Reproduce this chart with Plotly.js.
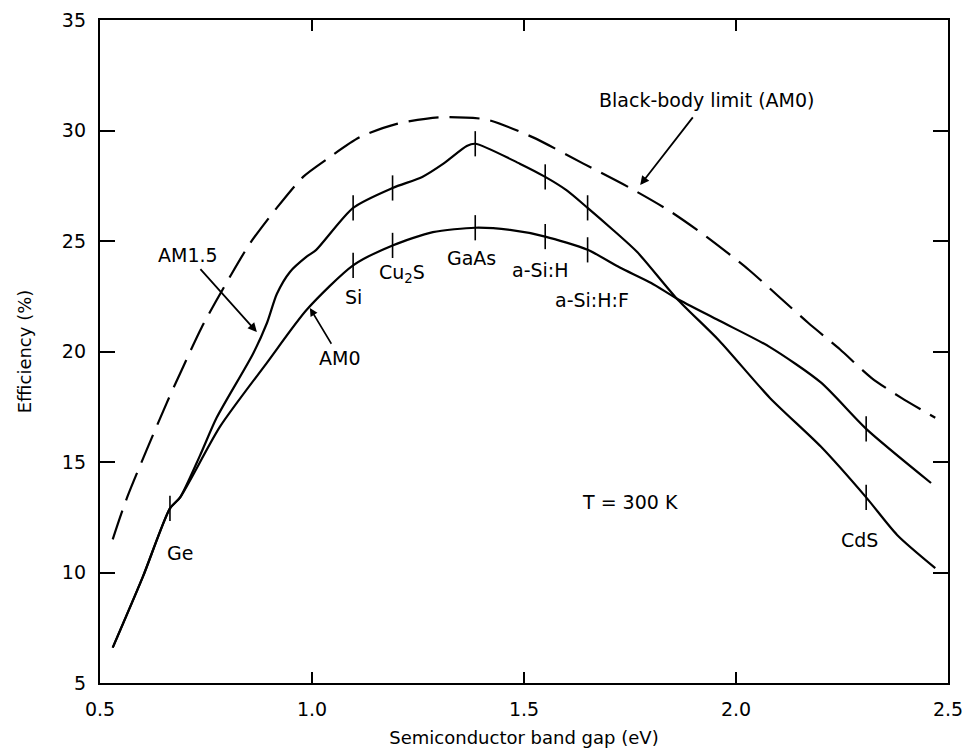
<!DOCTYPE html>
<html>
<head>
<meta charset="utf-8">
<script src="https://cdn.plot.ly/plotly-3.0.1.min.js"></script>
<style>html,body{margin:0;padding:0;background:#fff;}#chart{width:964px;height:752px;}</style>
</head>
<body>
<div id="chart"></div>
<script>
// Black-body limit (AM0), dashed
const bbGap = [0.53, 0.564, 0.658, 0.696, 0.74, 0.807, 0.854, 0.917, 0.979, 1.035, 1.113, 1.20, 1.30, 1.41, 1.52, 1.64, 1.75, 1.84, 1.93, 2.03, 2.10, 2.17, 2.245, 2.32, 2.39, 2.47];
const bbEff = [11.5, 13.4, 17.7, 19.3, 21.1, 23.4, 24.9, 26.5, 27.9, 28.7, 29.7, 30.3, 30.6, 30.5, 29.7, 28.5, 27.4, 26.4, 25.2, 23.7, 22.5, 21.3, 20.1, 18.8, 17.9, 17.0];

// AM1.5 curve
const am15Gap = [0.53, 0.601, 0.665, 0.689, 0.736, 0.775, 0.861, 0.894, 0.917, 0.948, 0.988, 1.01, 1.097, 1.19, 1.26, 1.31, 1.365, 1.385, 1.49, 1.55, 1.60, 1.65, 1.71, 1.767, 1.86, 1.96, 2.08, 2.20, 2.307, 2.38, 2.47];
const am15Eff = [6.6, 9.8, 12.9, 13.4, 15.3, 17.0, 19.9, 21.3, 22.6, 23.6, 24.3, 24.6, 26.5, 27.4, 27.9, 28.5, 29.3, 29.4, 28.5, 27.9, 27.3, 26.5, 25.5, 24.5, 22.4, 20.5, 17.9, 15.7, 13.4, 11.7, 10.2];

// AM0 curve
const am0Gap = [0.53, 0.601, 0.665, 0.689, 0.783, 0.894, 0.988, 1.097, 1.19, 1.285, 1.385, 1.467, 1.55, 1.65, 1.726, 1.80, 1.86, 1.96, 2.08, 2.20, 2.307, 2.46];
const am0Eff = [6.6, 9.8, 12.9, 13.4, 16.6, 19.5, 21.9, 23.9, 24.8, 25.4, 25.6, 25.5, 25.2, 24.6, 23.8, 23.1, 22.4, 21.4, 20.2, 18.6, 16.5, 14.05];

// Semiconductor markers
const materials = ["Ge", "Si", "Cu<sub>2</sub>S", "GaAs", "a-Si:H", "a-Si:H:F", "CdS"];
const matGap = [0.665, 1.097, 1.19, 1.385, 1.55, 1.65, 2.307];
const matAm15 = [12.9, 26.5, 27.4, 29.4, 27.9, 26.5, 13.4];
const matAm0 = [null, 23.9, 24.8, 25.6, 25.2, 24.6, 16.5];

// Tick labels
const xTicks = [0.5, 1.0, 1.5, 2.0, 2.5];
const xTickText = ["0.5", "1.0", "1.5", "2.0", "2.5"];
const yTicks = [5, 10, 15, 20, 25, 30, 35];

const FONT = "DejaVu Sans, Liberation Sans, sans-serif";
const lineStyle = {color: "#000", width: 2.2, shape: "spline", smoothing: 0.7};
const tickMarker = {symbol: "line-ns-open", size: 18, color: "#000", line: {color: "#000", width: 1.6}};

const traces = [
  {x: bbGap, y: bbEff, mode: "lines", line: Object.assign({}, lineStyle, {dash: "30px,11px"}), hoverinfo: "skip"},
  {x: am15Gap, y: am15Eff, mode: "lines", line: lineStyle, hoverinfo: "skip"},
  {x: am0Gap, y: am0Eff, mode: "lines", line: lineStyle, hoverinfo: "skip"},
  {x: matGap, y: matAm15, mode: "markers", marker: tickMarker, hoverinfo: "skip"},
  {x: matGap, y: matAm0, mode: "markers", marker: tickMarker, hoverinfo: "skip"}
];

// Label positions (text placement only)
const matLabelX = [0.689, 1.097, 1.212, 1.377, 1.540, 1.660, 2.292];
const matLabelY = [10.88, 22.47, 23.55, 24.23, 23.69, 22.33, 11.47];

const LF = {family: FONT, size: 19, color: "#000"};
const arrowStyle = {showarrow: true, arrowhead: 2, arrowsize: 1, arrowwidth: 1.8, arrowcolor: "#000", standoff: 0, startstandoff: 2};
const annotations = [];
materials.forEach((m, i) => {
  annotations.push({x: matLabelX[i], y: matLabelY[i], text: m, showarrow: false, font: LF});
});
annotations.push(Object.assign({x: 0.870, y: 20.88, text: "AM1.5", ax: -69, ay: -77, font: LF}, arrowStyle));
annotations.push(Object.assign({x: 0.995, y: 21.97, text: "AM0", ax: 30, ay: 50, font: LF}, arrowStyle, {arrowwidth: 1.6}));
annotations.push(Object.assign({x: 1.774, y: 27.53, text: "Black-body limit (AM0)", ax: 66, ay: -85, font: LF}, arrowStyle, {startstandoff: 6}));
annotations.push({x: 1.75, y: 13.19, text: "T = 300 K", showarrow: false, font: LF});

const axisCommon = {
  showgrid: false, zeroline: false, showline: true, linecolor: "#000", linewidth: 2.2,
  mirror: "ticks", ticks: "inside", tickcolor: "#000", tickwidth: 2,
  tickfont: {family: FONT, size: 19, color: "#000"}
};

const layout = {
  width: 964, height: 752,
  margin: {l: 100, r: 16, t: 20, b: 69},
  paper_bgcolor: "#fff", plot_bgcolor: "#fff",
  showlegend: false,
  xaxis: Object.assign({}, axisCommon, {
    range: [0.5, 2.5], tickvals: xTicks, ticktext: xTickText, ticklen: 11,
    ticklabelstandoff: 8,
    title: {text: "Semiconductor band gap (eV)", font: {family: FONT, size: 18, color: "#000"}, standoff: 12}
  }),
  yaxis: Object.assign({}, axisCommon, {
    range: [5, 35], tickvals: yTicks, ticklen: 15,
    ticklabelstandoff: 8,
    title: {text: "Efficiency (%)", font: {family: FONT, size: 18, color: "#000"}, standoff: 26}
  }),
  annotations: annotations
};

Plotly.newPlot("chart", traces, layout, {staticPlot: true, displayModeBar: false});
</script>
</body>
</html>
